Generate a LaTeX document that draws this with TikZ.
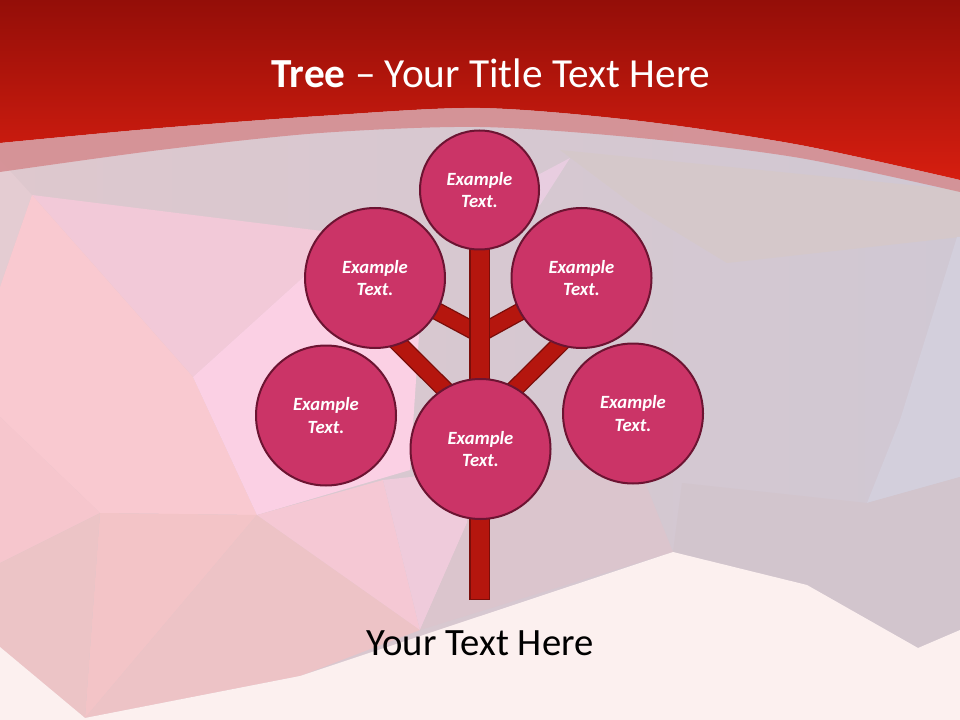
\documentclass[tikz,border=0pt]{standalone}
\usepackage{fontspec}
\setmainfont{Carlito}

\definecolor{slideredtop}{RGB}{148,14,8}
\definecolor{slideredmid}{RGB}{204,27,15}
\definecolor{slideredlow}{RGB}{214,30,16}
\definecolor{bandpink}{RGB}{212,138,142}
\definecolor{bgleft}{RGB}{222,200,206}
\definecolor{bgright}{RGB}{208,200,211}
\definecolor{leafpink}{RGB}{203,52,103}
\definecolor{leafedge}{RGB}{108,20,50}
\definecolor{barkred}{RGB}{181,22,14}
\definecolor{barkdark}{RGB}{122,14,10}
\definecolor{snow}{RGB}{252,240,239}
% facets of the backdrop
\definecolor{facetA}{RGB}{228,204,210}
\definecolor{facetB}{RGB}{242,201,216}
\definecolor{facetC}{RGB}{249,201,208}
\definecolor{facetD}{RGB}{251,208,228}
\definecolor{facetE}{RGB}{246,198,205}
\definecolor{facetF}{RGB}{243,196,199}
\definecolor{facetG}{RGB}{236,196,198}
\definecolor{facetH}{RGB}{237,195,198}
\definecolor{facetI}{RGB}{245,200,212}
\definecolor{facetJ}{RGB}{239,203,219}
\definecolor{facetK}{RGB}{219,197,205}
\definecolor{facetL}{RGB}{232,205,224}
\definecolor{facetM}{RGB}{213,200,202}
\definecolor{facetN}{RGB}{211,207,220}
\definecolor{facetO}{RGB}{210,197,205}

\tikzset{
  leaf/.style={circle, draw=leafedge, line width=1.5pt, fill=leafpink,
    text=white, align=center, inner sep=0pt,
    font=\fontsize{14}{17}\selectfont\bfseries\itshape},
  limb/.style={draw=barkred, line width=11.5pt,
    preaction={draw=barkdark, line width=13.5pt}},
  stem/.style={draw=barkred, line width=13.5pt, line cap=rect,
    preaction={draw=barkdark, line width=15.5pt, line cap=rect}}
}

\begin{document}
\begin{tikzpicture}[x=0.75pt, y=-0.75pt]
  \pgfmathsetmacro{\dTop}{0.75*119}
  \pgfmathsetmacro{\dLeaf}{0.75*140}
  \useasboundingbox (0,0) rectangle (960,720);

  % low poly backdrop
  \shade[left color=bgleft, right color=bgright] (0,0) rectangle (960,720);
  \fill[facetA] (0,160) -- (32,195) -- (0,287) -- cycle;
  \fill[facetB] (32,195) -- (330,232) -- (320,262) -- (193,377) -- cycle;
  \fill[facetC] (0,287) -- (32,195) -- (193,377) -- (257,515)
    -- (100,513) -- (0,417) -- cycle;
  \fill[facetD] (193,377) -- (320,262) -- (420,320) -- (410,470)
    -- (257,515) -- cycle;
  \fill[facetE] (0,417) -- (100,513) -- (0,563) -- cycle;
  \fill[facetF] (100,513) -- (257,515) -- (85,718) -- cycle;
  \fill[facetG] (0,563) -- (100,513) -- (85,718) -- (0,647) -- cycle;
  \fill[facetH] (257,515) -- (420,630) -- (300,676) -- (85,718) -- cycle;
  \fill[facetI] (257,515) -- (383,480) -- (420,630) -- cycle;
  \fill[facetJ] (383,480) -- (475,470) -- (467,523) -- (420,630) -- cycle;
  \fill[facetK] (467,470) -- (640,470) -- (673,552) -- (420,630)
    -- (467,523) -- cycle;
  \fill[facetL] (500,195) -- (570,158) -- (540,205) -- cycle;
  \fill[facetM] (560,150) -- (960,190) -- (960,237) -- (727,263)
    -- (640,210) -- cycle;
  \fill[facetN] (957,237) -- (960,237) -- (960,477) -- (867,503)
    -- (900,420) -- cycle;
  \fill[facetO] (673,552) -- (682,483) -- (867,503) -- (960,477)
    -- (960,630) -- (918,648) -- (807,585) -- cycle;
  \fill[snow] (0,647) -- (85,718) -- (300,676) -- (673,552) -- (807,585) -- (918,648)
    -- (960,630) -- (960,720) -- (0,720) -- cycle;

  % red header and its rim
  \shade[top color=slideredtop, middle color=slideredmid, bottom color=slideredlow]
    (0,0) -- (960,0) -- plot[smooth] coordinates {(960,180) (800,145) (640,121) (480,108)
    (320,116) (160,128) (0,143)} -- cycle;
  \fill[bandpink, opacity=0.85] plot[smooth] coordinates {(0,143) (160,128) (320,116)
    (480,108) (640,121) (800,145) (960,180)}
    -- plot[smooth] coordinates {(960,192) (800,158) (640,138) (480,127) (320,133)
    (160,150) (0,172)} -- cycle;

  % tree skeleton
  \foreach \nm/\px/\py in {topc/479.5/190, ulc/375/278, urc/581.5/278,
    llc/326/415.5, lrc/633/413.5, bcc/480.5/449}
    \coordinate (\nm) at (\px,\py);
  \coordinate (j1) at (479.5,334);
  \coordinate (j2) at (479.5,424);
  \coordinate (lbl) at (385,330);
  \coordinate (lbr) at (574,330);
  \coordinate (root) at (479.5,590);

  \draw[limb] (j1) -- (ulc);
  \draw[limb] (j1) -- (urc);
  \draw[limb] (j2) -- (lbl);
  \draw[limb] (j2) -- (lbr);
  \draw[stem] (topc) -- (root);

  % leaves
  \node[leaf, minimum size=\dTop pt] (top) at (topc) {Example\\Text.};
  \foreach \nm/\at in {ul/ulc, ur/urc, ll/llc, lr/lrc, bc/bcc}
    \node[leaf, minimum size=\dLeaf pt] (\nm) at (\at) {Example\\Text.};

  \node[font=\fontsize{31}{37}\selectfont, text=white, anchor=base] (title)
    at (491,88) {\textbf{Tree} – Your Title Text Here};
  \node[font=\fontsize{29}{35}\selectfont, anchor=base] (caption)
    at (480,655) {Your Text Here};
\end{tikzpicture}
\end{document}
